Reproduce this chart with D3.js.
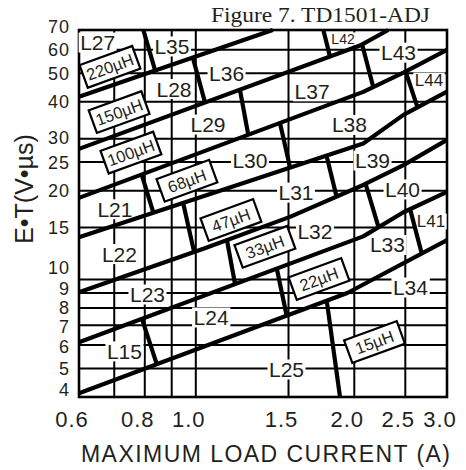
<!DOCTYPE html>
<html><head><meta charset="utf-8">
<script src="https://cdn.jsdelivr.net/npm/d3@7"></script>
<style>html,body{margin:0;padding:0;background:#fff;} svg{display:block;}</style>
</head><body>
<svg id="c" width="466" height="470"></svg>
<script>
// ---------- data ----------
const chartTitle = "Figure 7. TD1501-ADJ";
const xTitle = "MAXIMUM LOAD CURRENT (A)";
const yTitle = "E•T(V•µs)";
const xDomain = [0.6, 3.0];
const yDomain = [4, 70];
const xGrid = [0.7, 0.8, 0.9, 1.0, 1.5, 2.0, 2.5];
const xTickLabels = [0.6, 0.8, 1.0, 1.5, 2.0, 2.5, 3.0];
const yGrid = [5, 6, 7, 8, 9, 10, 15, 20, 25, 30, 40, 50, 60];
const yTickLabels = [70, 60, 50, 40, 30, 25, 20, 15, 10, 9, 8, 7, 6, 5, 4];

// inductance boundary curves: [current (A), E·T (V·µs)]
const curve220to150 = [[0.6, 41.6], [1.40, 70]];
const curve150to100 = [[0.6, 27.7], [2.05, 62.0], [2.32, 70]];
const curve100to68  = [[0.6, 18.9], [2.08, 43.2], [2.48, 50.2], [3.0, 59.9]];
const curve68to47   = [[0.6, 13.9], [2.08, 28.9], [2.48, 36.1], [3.0, 43.3]];
const curve47to33   = [[0.6, 9.05], [1.04, 12.76], [1.51, 16.3], [2.08, 20.9], [2.48, 24.4], [3.0, 29.7]];
const curve33to22   = [[0.6, 6.13], [2.08, 14.0], [2.48, 16.9], [3.0, 19.8]];
const curve22to15   = [[0.6, 4.12], [1.94, 9.0], [3.0, 13.6]];

// part-number boundaries (steep segments)
const partBoundaries = [
  [[0.795, 70], [0.837, 51.1]],
  [[0.987, 56.5], [1.041, 39.8]],
  [[1.213, 43.9], [1.258, 30.9]],
  [[1.445, 33.9], [1.510, 24.0]],
  [[2.069, 62.6], [2.173, 44.9]],
  [[1.747, 70], [1.798, 56.9]],
  [[2.503, 50.7], [2.637, 38.3]],
  [[1.773, 26.1], [1.852, 19.0]],
  [[2.101, 21.1], [2.222, 15.1]],
  [[2.552, 17.35], [2.686, 12.25]],
  [[0.789, 22.7], [0.830, 16.9]],
  [[0.946, 18.2], [0.992, 12.45]],
  [[1.146, 13.6], [1.187, 9.66]],
  [[1.425, 10.9], [1.488, 7.54]],
  [[1.773, 8.47], [1.879, 4]],
  [[0.790, 7.37], [0.843, 5.17]]
];

// region part labels [name, current, E·T]
const regionLabels = [
  ["L27", 0.651, 63.5], ["L35", 0.901, 61.6], ["L28", 0.909, 44.2], ["L36", 1.144, 50],
  ["L29", 1.055, 33.5], ["L37", 1.663, 43.4], ["L38", 1.958, 33.4], ["L43", 2.427, 58.7],
  ["L42", 1.904, 65.3], ["L44", 2.773, 47.4], ["L30", 1.267, 25.3], ["L39", 2.166, 25.3],
  ["L31", 1.550, 19.7], ["L40", 2.470, 20.2], ["L32", 1.684, 14.55], ["L41", 2.797, 15.8],
  ["L33", 2.312, 13.1], ["L34", 2.557, 9.4], ["L25", 1.487, 4.96], ["L21", 0.702, 17.3],
  ["L22", 0.716, 12.2], ["L23", 0.8095, 8.9], ["L24", 1.069, 7.44], ["L15", 0.732, 5.71]
];

// inductance value tags
const inductanceNames = ["220µH", "150µH", "100µH", "68µH", "47µH", "33µH", "22µH", "15µH"];
const inductanceAt = [[0.687, 52.5], [0.715, 36.9], [0.753, 26.9], [0.962, 21.6],
                      [1.166, 15.9], [1.353, 12.9], [1.714, 10.04], [2.185, 6.14]];

// ---------- drawing ----------
const svg = d3.select("#c");
const L = 79, R = 447, T = 30, B = 397;
const x = d3.scaleLog().domain(xDomain).range([L, R]);
const y = d3.scaleLog().domain(yDomain).range([B, T]);
const ink = "#000", textInk = "#231f20";
const sans = "'Liberation Sans', Arial, Helvetica, sans-serif";

// grid
const grid = svg.append("g").attr("stroke", ink).attr("stroke-width", 2);
grid.selectAll("line.v").data(xGrid).join("line").attr("class", "v")
  .attr("x1", d => x(d)).attr("x2", d => x(d)).attr("y1", y(yDomain[0])).attr("y2", y(yDomain[1]));
grid.selectAll("line.h").data(yGrid).join("line").attr("class", "h")
  .attr("y1", d => y(d)).attr("y2", d => y(d)).attr("x1", x(xDomain[0])).attr("x2", x(xDomain[1]));
svg.append("rect").attr("x", L).attr("y", T).attr("width", R - L).attr("height", B - T)
  .attr("fill", "none").attr("stroke", ink).attr("stroke-width", 2.6);

// tick labels
const fmt = d3.format(".1f");
svg.append("g").selectAll("text").data(xTickLabels).join("text")
  .attr("x", d => x(d) - 7).attr("y", 427).attr("text-anchor", "middle")
  .attr("font-family", sans).attr("font-size", 22).attr("letter-spacing", 1).attr("fill", textInk)
  .text(d => fmt(d));
const yNudge = {70: -3, 10: -12, 9: -5, 8: -1, 7: 1, 6: 1.5, 4: -7, 30: -1};
svg.append("g").selectAll("text").data(yTickLabels).join("text")
  .attr("x", 70).attr("y", d => y(d) + (yNudge[d] || 0)).attr("dy", "0.36em")
  .attr("text-anchor", "end").attr("font-family", sans).attr("font-size", 18)
  .attr("letter-spacing", 1).attr("fill", textInk).text(d => d);

// titles
svg.append("text").attr("x", 211).attr("y", 22).attr("font-family", "'Liberation Serif', 'Times New Roman', serif")
  .attr("font-size", 21).attr("textLength", 219).attr("lengthAdjust", "spacingAndGlyphs")
  .attr("fill", textInk).text(chartTitle);
svg.append("text").attr("x", 81).attr("y", 462).attr("font-family", sans).attr("font-size", 23)
  .attr("textLength", 369).attr("lengthAdjust", "spacing").attr("fill", textInk).text(xTitle);
svg.append("text").attr("transform", "translate(33,189) rotate(-90)").attr("text-anchor", "middle")
  .attr("font-family", sans).attr("font-size", 25).attr("fill", textInk).text(yTitle);

// region labels with white background
const smallSizes = {L42: 14, L44: 17, L41: 17};
const lab = svg.append("g");
regionLabels.forEach(([name, cur, et]) => {
  const g = lab.append("g");
  const t = g.append("text").attr("x", x(cur)).attr("y", y(et)).attr("dy", "0.36em")
    .attr("text-anchor", "middle").attr("font-family", sans)
    .attr("font-size", smallSizes[name] || 21).attr("fill", textInk).text(name);
  const bb = t.node().getBBox();
  g.insert("rect", "text").attr("x", bb.x - 1.5).attr("y", bb.y + 1.5)
    .attr("width", bb.width + 3).attr("height", bb.height - 3).attr("fill", "#fff");
});

// boundary curves
const line = d3.line().x(d => x(d[0])).y(d => y(d[1]));
const curves = [curve220to150, curve150to100, curve100to68, curve68to47, curve47to33, curve33to22, curve22to15];
svg.append("g").selectAll("path.c").data(curves).join("path").attr("class", "c")
  .attr("d", line).attr("fill", "none").attr("stroke", ink).attr("stroke-width", 4.2)
  .attr("stroke-linejoin", "round");
svg.append("g").selectAll("path.p").data(partBoundaries).join("path").attr("class", "p")
  .attr("d", line).attr("fill", "none").attr("stroke", ink).attr("stroke-width", 4.2);

// inductance tags
const tags = svg.append("g").selectAll("g").data(inductanceNames).join("g")
  .attr("transform", (d, i) => `translate(${x(inductanceAt[i][0])},${y(inductanceAt[i][1])}) rotate(-20)`);
tags.append("rect").attr("x", -28).attr("y", -12).attr("width", 56).attr("height", 24)
  .attr("fill", "#fff").attr("stroke", ink).attr("stroke-width", 2.2);
tags.append("text").attr("text-anchor", "middle").attr("dy", "0.36em")
  .attr("font-family", sans).attr("font-size", 16.5).attr("fill", textInk).text(d => d);
</script>
</body></html>
